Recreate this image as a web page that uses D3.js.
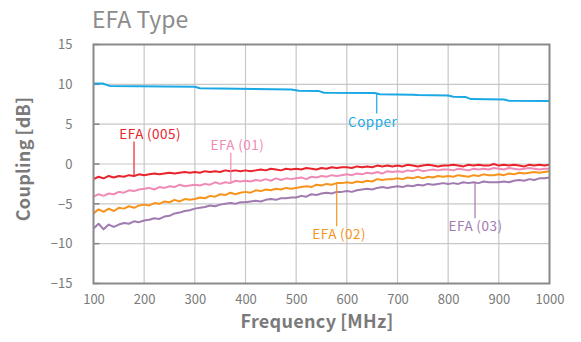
<!DOCTYPE html>
<html>
<head>
<meta charset="utf-8">
<script src="https://cdn.jsdelivr.net/npm/d3@7"></script>
<style>
  body { margin: 0; background: #fff; }
  svg { font-family: "Noto Sans CJK JP", "Noto Sans", sans-serif; }
</style>
</head>
<body>
<svg width="581" height="342"></svg>
<script>
// frequency points (MHz), every 10 MHz from 100 to 1000
var freqs = d3.range(100, 1001, 10);

// coupling values [dB]
var efa005 = [-1.9,-1.6,-1.8,-1.5,-1.7,-1.5,-1.6,-1.4,-1.5,-1.3,
  -1.4,-1.3,-1.2,-1.3,-1.2,-1.1,-1.2,-1.1,-1.0,-1.1,
  -1.0,-1.1,-0.9,-1.0,-0.9,-1.0,-0.8,-0.9,-0.8,-0.9,
  -0.8,-0.9,-0.8,-0.7,-0.8,-0.6,-0.7,-0.8,-0.6,-0.7,
  -0.6,-0.7,-0.5,-0.6,-0.7,-0.5,-0.6,-0.4,-0.5,-0.4,
  -0.4,-0.5,-0.3,-0.4,-0.3,-0.4,-0.2,-0.3,-0.2,-0.3,
  -0.2,-0.3,-0.1,-0.2,-0.3,-0.2,-0.1,-0.2,-0.3,-0.2,
  -0.2,-0.1,-0.2,-0.3,-0.1,-0.2,-0.1,-0.2,-0.2,0.0,
  -0.2,-0.1,-0.2,-0.1,-0.2,-0.3,-0.1,-0.2,-0.1,-0.2,
  -0.1];

var efa01 = [-4.1,-3.8,-4.0,-3.7,-3.8,-3.5,-3.6,-3.3,-3.4,-3.2,
  -3.1,-3.0,-3.2,-2.9,-3.0,-2.8,-2.9,-2.6,-2.8,-2.7,
  -2.6,-2.7,-2.5,-2.6,-2.3,-2.5,-2.3,-2.4,-2.1,-2.2,
  -2.1,-2.2,-2.0,-2.1,-1.9,-2.1,-1.8,-2.0,-1.8,-1.9,
  -1.8,-1.7,-1.9,-1.6,-1.7,-1.5,-1.6,-1.4,-1.5,-1.4,
  -1.3,-1.4,-1.2,-1.3,-1.1,-1.2,-1.0,-1.2,-0.9,-1.0,
  -0.9,-1.0,-0.8,-0.9,-0.7,-0.9,-0.8,-0.7,-0.8,-0.7,
  -0.7,-0.8,-0.6,-0.7,-0.8,-0.6,-0.7,-0.6,-0.7,-0.5,
  -0.6,-0.7,-0.5,-0.6,-0.7,-0.6,-0.5,-0.6,-0.7,-0.6,
  -0.6];

var efa02 = [-6.2,-5.7,-6.0,-5.6,-5.9,-5.5,-5.6,-5.3,-5.5,-5.2,
  -5.1,-5.2,-4.9,-5.0,-4.7,-4.8,-4.5,-4.7,-4.4,-4.5,
  -4.4,-4.2,-4.3,-4.0,-4.1,-3.8,-3.9,-3.6,-3.8,-3.6,
  -3.5,-3.6,-3.3,-3.4,-3.2,-3.3,-3.1,-3.2,-3.0,-3.1,
  -3.0,-2.9,-2.8,-2.9,-2.6,-2.7,-2.5,-2.6,-2.4,-2.4,
  -2.3,-2.4,-2.2,-2.3,-2.1,-2.2,-1.9,-2.0,-1.9,-1.9,
  -1.8,-1.9,-1.7,-1.8,-1.6,-1.8,-1.6,-1.7,-1.5,-1.6,
  -1.5,-1.6,-1.4,-1.5,-1.6,-1.4,-1.5,-1.3,-1.4,-1.4,
  -1.3,-1.4,-1.2,-1.3,-1.1,-1.2,-1.1,-1.0,-1.1,-1.0,
  -0.9];

var efa03 = [-8.1,-7.5,-8.2,-7.6,-7.9,-7.6,-7.4,-7.5,-7.2,-7.3,
  -7.1,-7.0,-6.8,-6.9,-6.6,-6.5,-6.2,-6.1,-5.9,-5.8,
  -5.6,-5.5,-5.4,-5.2,-5.3,-5.1,-5.0,-4.9,-5.0,-4.8,
  -4.8,-4.7,-4.6,-4.7,-4.5,-4.4,-4.5,-4.3,-4.3,-4.2,
  -4.2,-4.0,-4.1,-3.8,-3.9,-3.7,-3.6,-3.7,-3.5,-3.5,
  -3.4,-3.5,-3.3,-3.2,-3.1,-3.2,-3.0,-2.9,-3.0,-2.9,
  -2.8,-2.9,-2.7,-2.8,-2.6,-2.7,-2.5,-2.6,-2.5,-2.4,
  -2.5,-2.4,-2.5,-2.3,-2.4,-2.3,-2.4,-2.2,-2.3,-2.3,
  -2.3,-2.2,-2.3,-2.1,-2.0,-2.1,-1.9,-2.0,-1.8,-1.8,
  -1.7];

// copper is a stepped curve, kept as its own points
var copperFreq = [100,118,132,300,310,490,505,545,555,655,665,730,740,800,810,835,845,910,920,1000];
var copperVals = [10.1,10.1,9.8,9.7,9.5,9.35,9.2,9.15,8.95,8.9,8.75,8.7,8.65,8.6,8.45,8.4,8.15,8.1,7.95,7.9];

var xTicks = [100,200,300,400,500,600,700,800,900,1000];
var yTicks = [-15,-10,-5,0,5,10,15];

// labels: name, colour, leader frequency, text centre frequency, text baseline value
var seriesNames = ["Copper","EFA\u2009(005)","EFA\u2009(01)","EFA\u2009(02)","EFA\u2009(03)"];
var seriesColors = ["#1aa9e5","#e8232c","#f08ab6","#f7941e","#a17aaf"];
var leaderFreq = [659, 180, 371, 580, 853];
var textFreq = [651, 212, 384, 585, 854];
var textValue = [4.7, 3.2, 1.8, -9.45, -8.45];

var svg = d3.select("svg"),
    margin = {top: 44.5, right: 31.5, bottom: 58.5, left: 93.5},
    width = 581 - margin.left - margin.right,
    height = 342 - margin.top - margin.bottom,
    g = svg.append("g").attr("transform", "translate(" + margin.left + "," + margin.top + ")");

var x = d3.scaleLinear().domain([100, 1000]).range([0, width]),
    y = d3.scaleLinear().domain([-15, 15]).range([height, 0]);

//title
svg.append("text")
  .attr("x", 92).attr("y", 28)
  .attr("fill", "#8c8c8c")
  .style("font-size", "23px")
  .text("EFA Type");

//grid
g.append("g").selectAll("line").data(xTicks).enter().append("line")
  .attr("x1", function(d){return x(d);}).attr("x2", function(d){return x(d);})
  .attr("y1", 0).attr("y2", height)
  .attr("stroke", "#c8c8c8").attr("stroke-width", 1.2);
g.append("g").selectAll("line").data(yTicks).enter().append("line")
  .attr("x1", 0).attr("x2", width)
  .attr("y1", function(d){return y(d);}).attr("y2", function(d){return y(d);})
  .attr("stroke", "#c8c8c8").attr("stroke-width", 1.2);

//axes: labels only, the frame is drawn below
var xAxis = g.append("g")
  .attr("transform", "translate(0," + height + ")")
  .call(d3.axisBottom(x).tickValues(xTicks).tickFormat(d3.format("d")).tickSize(0).tickPadding(11));
var yAxis = g.append("g")
  .call(d3.axisLeft(y).tickValues(yTicks).tickSize(0).tickPadding(21));
[xAxis, yAxis].forEach(function(a){
  a.select(".domain").remove();
  a.selectAll("text").attr("fill", "#7a7a7a")
    .style("font-size", "13px").style("font-family", "'Noto Sans CJK JP', sans-serif");
});

//small inward ticks on the left edge
g.append("g").selectAll("line").data(yTicks).enter().append("line")
  .attr("x1", 0).attr("x2", 6)
  .attr("y1", function(d){return y(d);}).attr("y2", function(d){return y(d);})
  .attr("stroke", "#858585").attr("stroke-width", 1.5);

var line = d3.line()
  .x(function(d){return x(d[0]);})
  .y(function(d){return y(d[1]);});

var curves = [
  d3.zip(copperFreq, copperVals),
  d3.zip(freqs, efa005),
  d3.zip(freqs, efa01),
  d3.zip(freqs, efa02),
  d3.zip(freqs, efa03)
];

// draw bottom curve first so the red sits on top
[4,3,2,1,0].forEach(function(i){
  g.append("path")
    .attr("d", line(curves[i]))
    .attr("fill", "none")
    .attr("stroke", seriesColors[i])
    .attr("stroke-width", 2)
    .attr("stroke-linejoin", "round");
});

//frame
g.append("rect")
  .attr("width", width).attr("height", height)
  .attr("fill", "none").attr("stroke", "#8a8a8a").attr("stroke-width", 2);

//labels with leader lines
function valueAt(i, f) {
  var c = curves[i];
  var k = d3.bisector(function(d){return d[0];}).left(c, f);
  k = Math.max(1, Math.min(c.length - 1, k));
  var a = c[k-1], b = c[k];
  return a[1] + (b[1] - a[1]) * (f - a[0]) / (b[0] - a[0]);
}

seriesNames.forEach(function(name, i){
  var onCurve = valueAt(i, leaderFreq[i]);
  var above = textValue[i] > onCurve;
  var textY = y(textValue[i]);
  g.append("line")
    .attr("x1", x(leaderFreq[i])).attr("x2", x(leaderFreq[i]))
    .attr("y1", y(onCurve))
    .attr("y2", above ? textY + 3 : textY - 13)
    .attr("stroke", seriesColors[i]).attr("stroke-width", 1.2);
  g.append("text")
    .attr("x", x(textFreq[i])).attr("y", textY)
    .attr("text-anchor", "middle")
    .attr("fill", seriesColors[i])
    .style("font-size", "13.5px")
    .style("letter-spacing", "0.5px")
    .text(name);
});

//axis titles
svg.append("text")
  .attr("x", 317).attr("y", 328)
  .attr("text-anchor", "middle")
  .attr("fill", "#7a7a7a")
  .style("font-size", "18px").style("font-weight", "bold")
  .style("letter-spacing", "0.3px")
  .text("Frequency\u2009[MHz]");

svg.append("text")
  .attr("transform", "translate(30,159) rotate(-90)")
  .attr("text-anchor", "middle")
  .attr("fill", "#7a7a7a")
  .style("font-size", "18px").style("font-weight", "bold")
  .style("letter-spacing", "0.3px")
  .text("Coupling\u2009[dB]");
</script>
</body>
</html>
